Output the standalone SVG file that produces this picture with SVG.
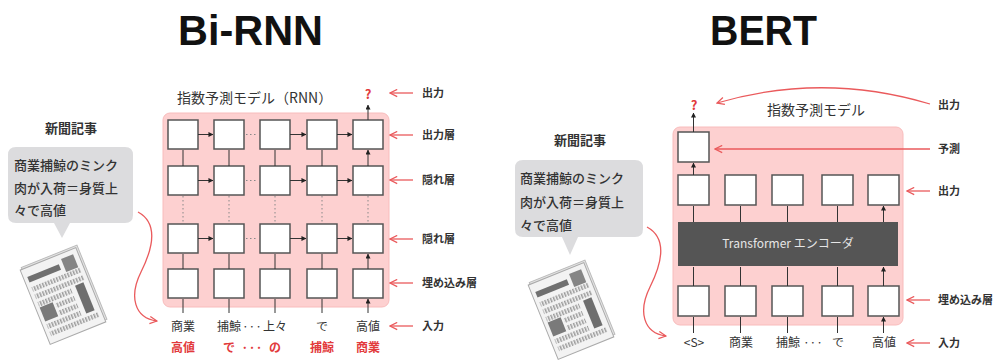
<svg xmlns="http://www.w3.org/2000/svg" width="998" height="361" viewBox="0 0 998 361">
  <style>
    .title { font-family: "Liberation Sans", Arial, sans-serif; font-weight: bold; font-size: 42px; fill: #111; }
    .jp { font-family: "Noto Sans CJK JP", "Noto Sans", sans-serif; fill: #333; }
    .cap { font-size: 14px; }
    .lbl { font-size: 11px; font-weight: bold; }
    .tok { font-size: 12px; text-anchor: middle; }
    .red { fill: #e23a3c; font-weight: bold; }
    .bub { font-size: 13px; font-weight: 500; }
    .head { font-size: 13px; font-weight: bold; text-anchor: middle; }
    .panel { fill: #fdd0d0; stroke: #f8bcbc; stroke-width: 1; }
    .box { fill: #fff; stroke: #555; stroke-width: 1.5; }
    .link { stroke: #333; stroke-width: 1; fill: none; marker-end: url(#tip); }
    .dots { stroke: #888; stroke-width: 1; stroke-dasharray: 1.5 2.5; fill: none; }
    .ptr { stroke: #ea5a5c; stroke-width: 1.3; fill: none; marker-end: url(#vee); }
    .bubble { fill: #dcdcde; }
    .enc { fill: #555; }
  </style>
  <defs>
    <marker id="tip" viewBox="0 0 6 6" refX="5.5" refY="3" markerWidth="5" markerHeight="5" orient="auto" markerUnits="userSpaceOnUse">
      <path d="M0,0 L6,3 L0,6 z" fill="#222"/>
    </marker>
    <marker id="vee" viewBox="0 0 10 10" refX="9" refY="5" markerWidth="9" markerHeight="9" orient="auto" markerUnits="userSpaceOnUse">
      <path d="M1,1 L9,5 L1,9" fill="none" stroke="#ea5a5c" stroke-width="1.4"/>
    </marker>
    <pattern id="hatch" width="3" height="6" patternUnits="userSpaceOnUse">
      <rect x="0" y="0" width="1.5" height="6" fill="#9a9a9a"/>
    </pattern>
    <!-- folded newspaper sketch, drawn around its own centre -->
    <g id="paper">
      <rect x="-28" y="-42" width="60" height="80" fill="#e4e4e4" stroke="#bbb" stroke-width="1"/>
      <rect x="-30" y="-40" width="60" height="80" fill="#f3f3f3" stroke="#aaa" stroke-width="1"/>
      <rect x="-26" y="-31" width="34" height="6" fill="#707070"/>
      <rect x="12" y="-35" width="13" height="14" fill="#858585"/>
      <rect x="-26" y="-20" width="52" height="5" fill="url(#hatch)"/>
      <rect x="-26" y="-12" width="52" height="5" fill="url(#hatch)"/>
      <rect x="-26" y="-4" width="36" height="5" fill="url(#hatch)"/>
      <rect x="-10" y="4" width="20" height="5" fill="url(#hatch)"/>
      <rect x="-10" y="12" width="20" height="5" fill="url(#hatch)"/>
      <rect x="-26" y="20" width="36" height="5" fill="url(#hatch)"/>
      <rect x="-26" y="28" width="52" height="5" fill="url(#hatch)"/>
      <rect x="-26" y="2" width="14" height="15" fill="#7a7a7a"/>
      <rect x="15" y="-5" width="9" height="30" fill="#6e6e6e"/>
    </g>
  </defs>

  <rect width="998" height="361" fill="#fff"/>

  <!-- headings -->
  <text class="title" x="178" y="45" textLength="145" lengthAdjust="spacingAndGlyphs">Bi-RNN</text>
  <text class="title" x="710" y="45" textLength="107" lengthAdjust="spacingAndGlyphs">BERT</text>

  <!-- ===== left: bidirectional RNN ===== -->
  <g id="article-left">
    <text class="jp head" x="71" y="133">新聞記事</text>
    <path class="bubble" d="M16,147 H125 Q133,147 133,155 V215 Q133,223 125,223 H70 L62,238 L54,223 H16 Q8,223 8,215 V155 Q8,147 16,147 z"/>
    <text class="jp bub" x="14" y="170">商業捕鯨のミンク</text>
    <text class="jp bub" x="14" y="193">肉が入荷＝身質上</text>
    <text class="jp bub" x="14" y="215">々で高値</text>
    <use href="#paper" transform="translate(63,296) rotate(-22)"/>
  </g>

  <g id="rnn-model">
    <rect class="panel" x="163" y="113" width="226" height="194" rx="7"/>
    <text class="jp cap" x="177" y="103">指数予測モデル（RNN）</text>
  </g>

  <g id="rnn-cells">
    <rect class="box" x="168" y="120" width="30" height="29"/>
    <rect class="box" x="214" y="120" width="30" height="29"/>
    <rect class="box" x="260" y="120" width="30" height="29"/>
    <rect class="box" x="307" y="120" width="30" height="29"/>
    <rect class="box" x="353" y="120" width="30" height="29"/>
    <rect class="box" x="168" y="166" width="30" height="29"/>
    <rect class="box" x="214" y="166" width="30" height="29"/>
    <rect class="box" x="260" y="166" width="30" height="29"/>
    <rect class="box" x="307" y="166" width="30" height="29"/>
    <rect class="box" x="353" y="166" width="30" height="29"/>
    <rect class="box" x="168" y="224" width="30" height="29"/>
    <rect class="box" x="214" y="224" width="30" height="29"/>
    <rect class="box" x="260" y="224" width="30" height="29"/>
    <rect class="box" x="307" y="224" width="30" height="29"/>
    <rect class="box" x="353" y="224" width="30" height="29"/>
    <rect class="box" x="168" y="269" width="30" height="29"/>
    <rect class="box" x="214" y="269" width="30" height="29"/>
    <rect class="box" x="260" y="269" width="30" height="29"/>
    <rect class="box" x="307" y="269" width="30" height="29"/>
    <rect class="box" x="353" y="269" width="30" height="29"/>
  </g>

  <g id="rnn-connectors">
    <!-- recurrent links along each layer -->
    <path class="link" d="M198,134.5 H213"/>
    <path class="link" d="M290,134.5 H306"/>
    <path class="link" d="M337,134.5 H352"/>
    <path class="link" d="M198,180.5 H213"/>
    <path class="link" d="M290,180.5 H306"/>
    <path class="link" d="M337,180.5 H352"/>
    <path class="link" d="M198,238.5 H213"/>
    <path class="link" d="M290,238.5 H306"/>
    <path class="link" d="M337,238.5 H352"/>
    <path class="dots" d="M246,134.5 H258 M246,180.5 H258 M246,238.5 H258"/>
    <!-- layer to layer -->
    <path class="link" d="M183,166 V150 M229,166 V150 M275,166 V150 M322,166 V150 M368,166 V150"/>
    <path class="link" d="M183,269 V254 M229,269 V254 M275,269 V254 M322,269 V254 M368,269 V254"/>
    <path class="dots" d="M183,196 V223 M229,196 V223 M275,196 V223 M322,196 V223 M368,196 V223"/>
    <!-- inputs and output -->
    <path class="link" d="M183,313 V299 M229,313 V299 M275,313 V299 M322,313 V299 M368,313 V299"/>
    <path class="link" d="M368,120 V105"/>
    <!-- article feeds the tokens -->
    <path class="ptr" d="M138,212 C160,224 152,250 141,272 C129,296 134,318 157,321"/>
    <!-- layer annotations -->
    <path class="ptr" d="M413,93 H390"/>
    <path class="ptr" d="M413,135 H390"/>
    <path class="ptr" d="M413,180 H390"/>
    <path class="ptr" d="M413,239 H390"/>
    <path class="ptr" d="M413,283 H390"/>
    <path class="ptr" d="M413,326 H390"/>
  </g>

  <g id="rnn-labels">
    <text class="jp red" x="368" y="99" font-size="13" text-anchor="middle">?</text>
    <text class="jp tok" x="183" y="331">商業</text>
    <text class="jp tok" x="229" y="331">捕鯨</text>
    <text class="jp tok" x="252" y="331">···</text>
    <text class="jp tok" x="275" y="331">上々</text>
    <text class="jp tok" x="322" y="331">で</text>
    <text class="jp tok" x="368" y="331">高値</text>
    <text class="jp tok red" x="183" y="352">高値</text>
    <text class="jp tok red" x="229" y="352">で</text>
    <text class="jp tok red" x="252" y="352">···</text>
    <text class="jp tok red" x="275" y="352">の</text>
    <text class="jp tok red" x="322" y="352">捕鯨</text>
    <text class="jp tok red" x="368" y="352">商業</text>
    <text class="jp lbl" x="422" y="97">出力</text>
    <text class="jp lbl" x="422" y="139">出力層</text>
    <text class="jp lbl" x="422" y="184">隠れ層</text>
    <text class="jp lbl" x="422" y="243">隠れ層</text>
    <text class="jp lbl" x="422" y="287">埋め込み層</text>
    <text class="jp lbl" x="422" y="330">入力</text>
  </g>

  <!-- ===== right: BERT ===== -->
  <g id="article-right">
    <text class="jp head" x="580" y="145">新聞記事</text>
    <path class="bubble" d="M523,160 H635 Q643,160 643,168 V229 Q643,237 635,237 H578 L570,255 L562,237 H523 Q515,237 515,229 V168 Q515,160 523,160 z"/>
    <text class="jp bub" x="520" y="183">商業捕鯨のミンク</text>
    <text class="jp bub" x="520" y="207">肉が入荷＝身質上</text>
    <text class="jp bub" x="520" y="230">々で高値</text>
    <use href="#paper" transform="translate(571,311) rotate(-22)"/>
  </g>

  <g id="bert-model">
    <rect class="panel" x="673" y="127" width="230" height="198" rx="7"/>
    <text class="jp cap" x="816" y="115" text-anchor="middle">指数予測モデル</text>
  </g>

  <g id="bert-predict">
    <rect class="box" x="678" y="132" width="31" height="30"/>
  </g>

  <g id="bert-outputs">
    <rect class="box" x="678" y="175" width="31" height="30"/>
    <rect class="box" x="725" y="175" width="31" height="30"/>
    <rect class="box" x="772" y="175" width="31" height="30"/>
    <rect class="box" x="822" y="175" width="31" height="30"/>
    <rect class="box" x="868" y="175" width="31" height="30"/>
  </g>

  <g id="bert-encoder">
    <rect class="enc" x="678" y="222" width="220" height="44"/>
    <text x="788" y="248" font-family="'Noto Sans CJK JP', 'Noto Sans', sans-serif" font-size="12" fill="#e6e6e6" text-anchor="middle">Transformer エンコーダ</text>
  </g>

  <g id="bert-embeddings">
    <rect class="box" x="678" y="286" width="31" height="30"/>
    <rect class="box" x="725" y="286" width="31" height="30"/>
    <rect class="box" x="772" y="286" width="31" height="30"/>
    <rect class="box" x="822" y="286" width="31" height="30"/>
    <rect class="box" x="868" y="286" width="31" height="30"/>
  </g>

  <g id="bert-connectors">
    <path class="link" d="M693.5,333 V317 M740.5,333 V317 M787.5,333 V317 M837.5,333 V317 M883.5,333 V317"/>
    <path class="link" d="M693.5,286 V267 M740.5,286 V267 M787.5,286 V267 M837.5,286 V267 M883.5,286 V267"/>
    <path class="link" d="M693.5,222 V206 M740.5,222 V206 M787.5,222 V206 M837.5,222 V206 M883.5,222 V206"/>
    <path class="link" d="M693.5,175 V163"/>
    <path class="link" d="M693.5,132 V113"/>
    <path class="ptr" d="M647,227 C669,239 661,265 650,287 C638,311 643,333 666,336"/>
    <path class="ptr" d="M930,104 Q823,72 717,103"/>
    <path class="ptr" d="M930,149 H715"/>
    <path class="ptr" d="M930,191 H907"/>
    <path class="ptr" d="M930,300 H907"/>
    <path class="ptr" d="M930,343 H907"/>
  </g>

  <g id="bert-labels">
    <text class="jp red" x="694" y="110" font-size="13" text-anchor="middle">?</text>
    <text class="jp tok" x="694" y="347">&lt;S&gt;</text>
    <text class="jp tok" x="741" y="347">商業</text>
    <text class="jp tok" x="788" y="347">捕鯨</text>
    <text class="jp tok" x="813" y="347">···</text>
    <text class="jp tok" x="838" y="347">で</text>
    <text class="jp tok" x="884" y="347">高値</text>
    <text class="jp lbl" x="938" y="109">出力</text>
    <text class="jp lbl" x="938" y="153">予測</text>
    <text class="jp lbl" x="938" y="195">出力</text>
    <text class="jp lbl" x="938" y="304">埋め込み層</text>
    <text class="jp lbl" x="938" y="347">入力</text>
  </g>
</svg>
